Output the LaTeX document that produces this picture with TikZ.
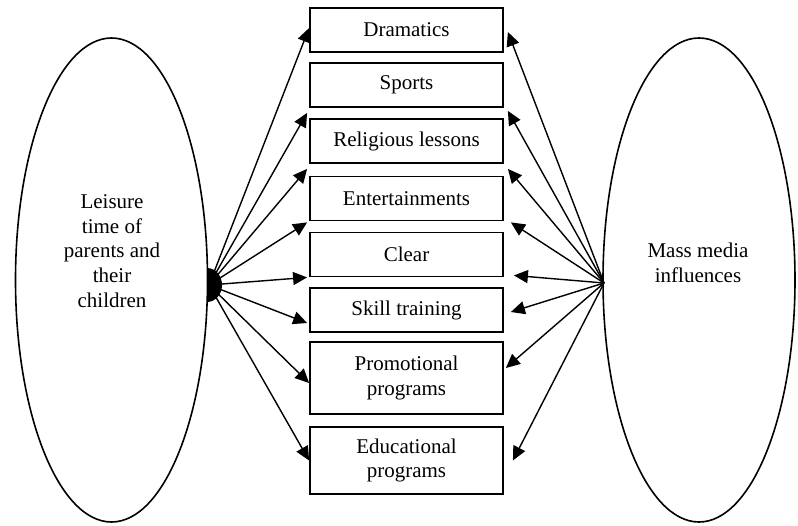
\documentclass[tikz,border=0pt]{standalone}
\usepackage{fontspec}
\setmainfont{Liberation Serif}
\usetikzlibrary{shapes.geometric,arrows.meta}

\tikzset{
    oval/.style={draw, ellipse, line width=0.8pt, minimum width=96pt, minimum height=242pt},
    item/.style={draw, rectangle, line width=0.9pt, minimum width=96.5pt, minimum height=22pt, align=center, inner sep=0pt},
    link/.style={line width=0.7pt, -{Triangle[length=7pt,width=6.5pt]}},
}

\begin{document}
\begin{tikzpicture}[x=0.5pt, y=-0.5pt, font=\fontsize{10.5}{12.3}\selectfont]
    \useasboundingbox (0,0) rectangle (798,525);

    % Ovals
    \node[oval] (leisure) at (111.5,280) {};
    \node[align=center] (leisuretext) at (112,251) {Leisure\\time of\\parents and\\their\\children};
    \node[oval] (media) at (699,280) {};
    \node[align=center] (mediatext) at (698,263) {Mass media\\influences};

    % Activities
    \node[item] (dram) at (406.5,30) {Dramatics};
    \node[item] (sport) at (406.5,85) {Sports};
    \node[item] (relig) at (406.5,141) {Religious lessons};
    \node[item] (enter) at (406.5,198.5) {Entertainments};
    \node[item] (clear) at (406.5,254.5) {Clear};
    \node[item] (skill) at (406.5,310) {Skill training};
    \node[item, minimum height=36pt] (promo) at (406.5,378) {Promotional\\programs};
    \node[item, minimum height=33.5pt] (educ) at (406.5,460.5) {Educational\\programs};

    % Hubs
    \coordinate (lhub) at (209,285);
    \coordinate (rhub) at (604,283);
    \fill (207,268) arc[start angle=-90, end angle=90, x radius=15, y radius=17] -- cycle;

    % Left arrows
    \draw[link] (lhub) -- ([shift={(0,-2)}]dram.west);
    \draw[link] (lhub) -- ([shift={(-2,5)}]sport.south west);
    \draw[link] (lhub) -- ([shift={(-2,5)}]relig.south west);
    \draw[link] (lhub) -- ([shift={(-2,1)}]enter.south west);
    \draw[link] (lhub) -- ([shift={(-2,0)}]clear.south west);
    \draw[link] (lhub) -- ([shift={(-2,13)}]skill.west);
    \draw[link] (lhub) -- ([shift={(0,5)}]promo.west);
    \draw[link] (lhub) -- (educ.west);

    % Right arrows
    \draw[link] (rhub) -- ([shift={(4,2)}]dram.east);
    \draw[link] (rhub) -- ([shift={(4,3)}]sport.south east);
    \draw[link] (rhub) -- ([shift={(4,5)}]relig.south east);
    \draw[link] (rhub) -- ([shift={(7,1)}]enter.south east);
    \draw[link] (rhub) -- ([shift={(10,-2)}]clear.south east);
    \draw[link] (rhub) -- ([shift={(7,2)}]skill.east);
    \draw[link] (rhub) -- ([shift={(2,-10)}]promo.east);
    \draw[link] (rhub) -- ([shift={(9,0)}]educ.east);
\end{tikzpicture}
\end{document}
